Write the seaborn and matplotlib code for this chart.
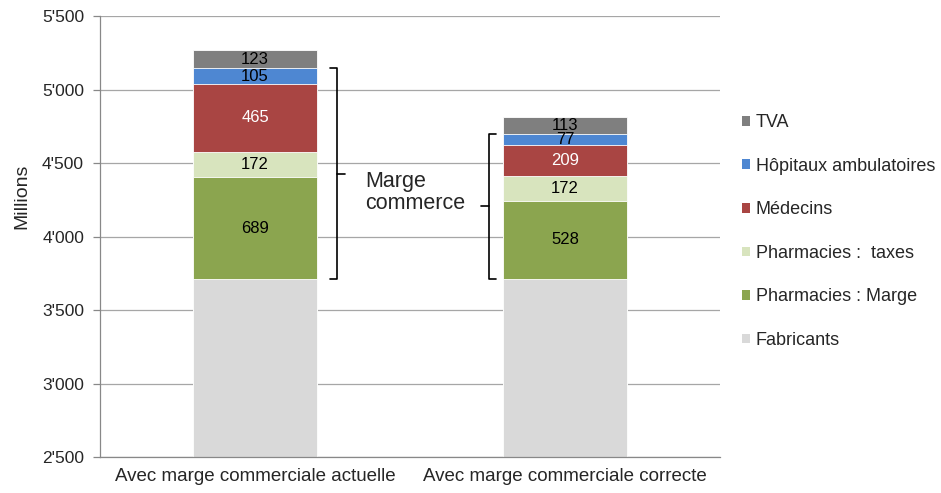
import numpy as np
import pandas as pd
import matplotlib
matplotlib.use("Agg")
import matplotlib.pyplot as plt
import seaborn as sns
from matplotlib.patches import Patch
from matplotlib.ticker import FuncFormatter

# data (millions), bottom to top
scenarios = ["Avec marge commerciale actuelle", "Avec marge commerciale correcte"]
components = ["Fabricants", "Pharmacies : Marge", "Pharmacies :  taxes",
              "Médecins", "Hôpitaux ambulatoires", "TVA"]
fabricants = [3713, 3713]
pharma_marge = [689, 528]
pharma_taxes = [172, 172]
medecins = [465, 209]
hopitaux = [105, 77]
tva = [123, 113]

colors = ["#D9D9D9", "#8BA54F", "#D8E4BE", "#A94543", "#4E87D2", "#7F7F7F"]
label_colors = ["black", "black", "black", "white", "black", "black"]

values = np.array([fabricants, pharma_marge, pharma_taxes, medecins, hopitaux, tva])
cumul = values.cumsum(axis=0)

sns.set_style("white")
plt.rcParams["font.family"] = ["Liberation Sans", "DejaVu Sans"]

fig = plt.figure(figsize=(9.41, 4.93), dpi=100)
ax = fig.add_axes([0.1063, 0.073, 0.659, 0.8945])

# stacked bars: draw the cumulative totals from the top segment down
for i in range(len(components) - 1, -1, -1):
    df = pd.DataFrame({"scenario": scenarios, "total": cumul[i]})
    sns.barplot(data=df, x="scenario", y="total", color=colors[i], width=0.4,
                edgecolor="white", linewidth=0.6, saturation=1, ax=ax, zorder=2)

# value labels
for j in range(len(scenarios)):
    for i in range(len(components)):
        mid = cumul[i, j] - values[i, j] / 2
        txt = f"{values[i, j]:,}".replace(",", "'")
        ax.text(j, mid, txt, ha="center", va="center", fontsize=12,
                color=label_colors[i], zorder=3)

ax.set_ylim(2500, 5500)
ax.set_xlim(-0.5, 1.5)
ax.set_yticks(np.arange(2500, 5501, 500))
ax.yaxis.set_major_formatter(FuncFormatter(lambda v, p: f"{int(v):,}".replace(",", "'")))
ax.yaxis.grid(True, color="#A6A6A6", linewidth=0.9, zorder=0)
ax.set_axisbelow(True)
ax.set_xticks([-0.5, 0.5, 1.5], minor=True)
ax.set_xticks([0, 1])
ax.set_xticklabels(scenarios, fontsize=13.5)
ax.tick_params(axis="x", which="major", length=0, pad=8)
ax.tick_params(axis="x", which="minor", length=5, color="#888888", width=0.9)
ax.tick_params(axis="y", length=5, color="#888888", width=0.9, labelsize=12.5,
               left=True, pad=6.5)
ax.set_xlabel("")
ax.set_ylabel("Millions", fontsize=14)
ax.yaxis.set_label_coords(-0.112, 0.592)
for s in ["top", "right"]:
    ax.spines[s].set_visible(False)
for s in ["left", "bottom"]:
    ax.spines[s].set_color("#888888")
    ax.spines[s].set_linewidth(0.9)

# braces around the margin segments (Pharmacies marge .. Hôpitaux)
def brace(x, y0, y1, d, nub):
    ym = (y0 + y1) / 2
    ax.plot([x - d, x, x, x - d], [y0, y0, y1, y1], color="black", lw=1.2,
            solid_joinstyle="round", zorder=4)
    ax.plot([x, x + nub], [ym, ym], color="black", lw=1.2, zorder=4)

brace(0.265, cumul[0, 0], cumul[4, 0], 0.022, 0.025)
brace(0.755, cumul[0, 1], cumul[4, 1], -0.022, -0.025)
ax.text(0.355, 4300, "Marge\ncommerce", fontsize=15.5, ha="left", va="center",
        linespacing=1.05, zorder=4)

handles = [Patch(facecolor=colors[i], edgecolor="none", label=components[i])
           for i in range(len(components) - 1, -1, -1)]
fig.legend(handles=handles, loc="upper left", bbox_to_anchor=(0.781, 0.783),
           frameon=False, fontsize=13, handlelength=0.45, handleheight=0.45,
           handletextpad=0.3, labelspacing=1.47, borderaxespad=0)

fig.savefig("out.png", dpi=100)
